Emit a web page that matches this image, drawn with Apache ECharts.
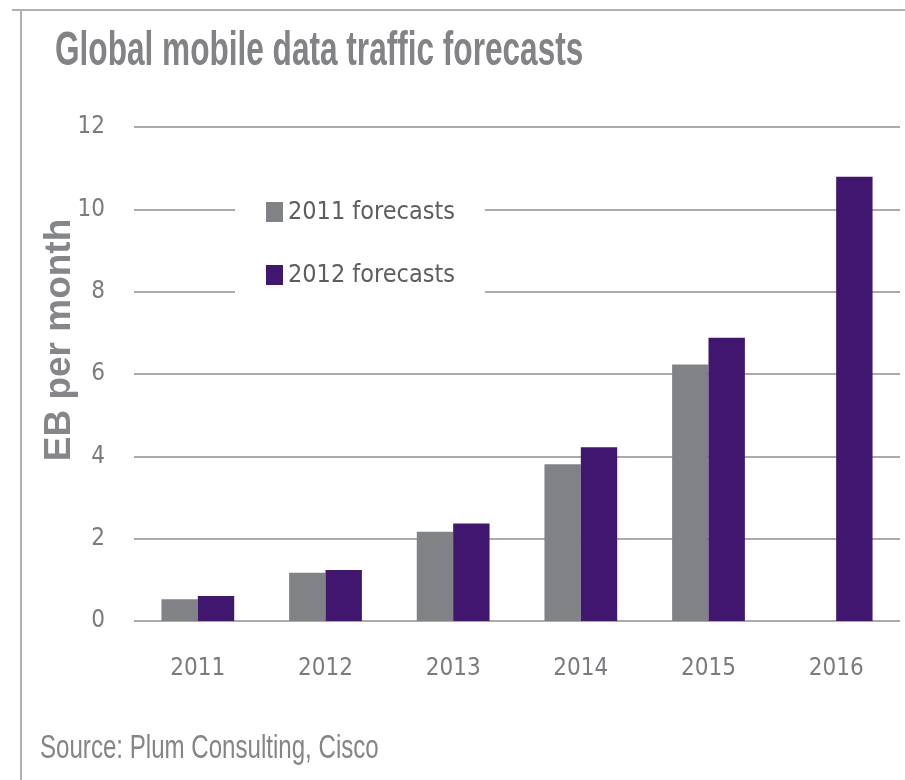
<!DOCTYPE html>
<html>
<head>
<meta charset="utf-8">
<script src="https://cdn.jsdelivr.net/npm/echarts@6/dist/echarts.min.js"></script>
<style>html,body{margin:0;padding:0;background:#fff;}#main{width:905px;height:780px;}</style>
</head>
<body>
<div id="main"></div>
<script>
const categories = ['2011', '2012', '2013', '2014', '2015', '2016'];
const forecasts2011 = [0.53, 1.17, 2.17, 3.81, 6.23, null];
const forecasts2012 = [0.61, 1.24, 2.37, 4.22, 6.88, 10.79];
const seriesNames = ['2011 forecasts', '2012 forecasts'];
const yTicks = [0, 2, 4, 6, 8, 10, 12];
const titleText = 'Global mobile data traffic forecasts';
const sourceText = 'Source: Plum Consulting, Cisco';

const COND = "'DejaVu Sans Condensed', 'Liberation Sans Narrow', sans-serif";
const chart = echarts.init(document.getElementById('main'), null, {renderer: 'canvas'});
chart.setOption({
  backgroundColor: '#ffffff',
  animation: false,
  legend: {
    orient: 'vertical',
    left: 235, top: 182,
    padding: [10, 30, 8, 31],
    backgroundColor: '#ffffff',
    itemWidth: 17, itemHeight: 20, itemGap: 23,
    icon: 'rect',
    textStyle: {fontFamily: COND, fontSize: 25, color: '#5e5e5e', lineHeight: 40},
    data: seriesNames
  },
  grid: {left: 134, right: 5, top: 127, bottom: 159},
  xAxis: {
    type: 'category',
    data: categories,
    axisLine: {show: false},
    axisTick: {show: false},
    axisLabel: {fontFamily: COND, fontSize: 24, color: '#7a7b7f', margin: 36}
  },
  yAxis: {
    type: 'value',
    min: yTicks[0], max: yTicks[yTicks.length - 1], interval: 2,
    name: 'EB per month',
    nameLocation: 'middle',
    nameGap: 56,
    nameMoveOverlap: false,
    nameTextStyle: {fontFamily: "'Liberation Sans', Arial, sans-serif", fontSize: 37, fontWeight: 'bold', color: '#85868a', padding: [0, 0, 0, 68]},
    axisLine: {show: false},
    axisTick: {show: false},
    axisLabel: {fontFamily: COND, fontSize: 24, color: '#7a7b7f', margin: 29},
    splitLine: {lineStyle: {color: '#8f8f8f', width: 1.5}}
  },
  series: [
    {name: seriesNames[0], type: 'bar', data: forecasts2011, barGap: '0%', barCategoryGap: '43%', itemStyle: {color: '#818286'}},
    {name: seriesNames[1], type: 'bar', data: forecasts2012, barGap: '0%', barCategoryGap: '43%', itemStyle: {color: '#40166e'}}
  ],
  graphic: [
    {type: 'line', shape: {x1: 12, y1: 10, x2: 905, y2: 10}, style: {stroke: '#b0b0b0', lineWidth: 2}},
    {type: 'line', shape: {x1: 21, y1: 10, x2: 21, y2: 780}, style: {stroke: '#b0b0b0', lineWidth: 2}},
    {type: 'text', x: 55, y: 52, scaleX: 0.658, scaleY: 1,
     style: {text: titleText, font: "bold 48px 'Liberation Sans', Arial, sans-serif", fill: '#828387', verticalAlign: 'middle', align: 'left'}},
    {type: 'text', x: 40, y: 749, scaleX: 0.73, scaleY: 1,
     style: {text: sourceText, font: "33px 'Liberation Sans', Arial, sans-serif", fill: '#858585', verticalAlign: 'middle', align: 'left'}}
  ]
});
</script>
</body>
</html>
